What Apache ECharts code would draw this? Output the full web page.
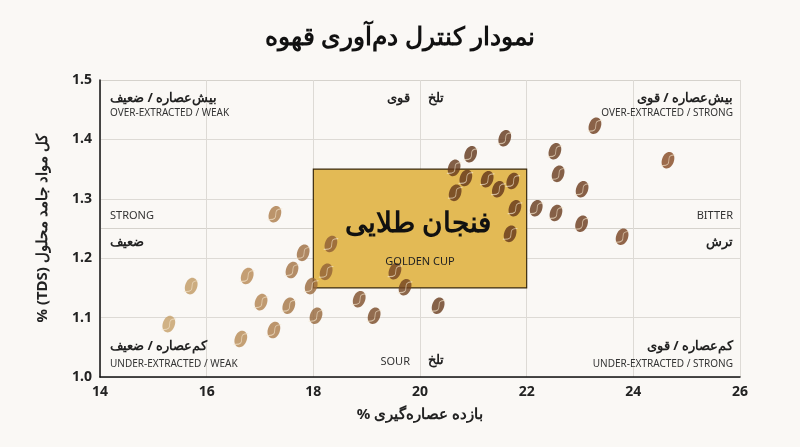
<!DOCTYPE html>
<html dir="rtl"><head><meta charset="utf-8">
<script src="https://cdn.jsdelivr.net/npm/echarts@6/dist/echarts.min.js"></script>
<style>html,body{margin:0;background:#faf8f5}#c{width:800px;height:447px}</style>
</head><body><div id="c"></div>
<script>
const extraction = [17.28,15.71,15.29,16.64,16.76,17.02,17.26,17.6,17.54,17.81,18.33,18.24,17.96,18.05,18.86,19.14,19.53,19.72,20.34,20.66,20.86,20.95,20.64,21.26,21.47,21.59,21.74,21.78,21.69,22.18,22.53,22.59,22.55,23.04,23.03,23.28,23.79,24.65];
const tds = [1.274,1.153,1.089,1.064,1.170,1.126,1.079,1.180,1.120,1.209,1.224,1.177,1.153,1.103,1.131,1.103,1.178,1.151,1.120,1.310,1.335,1.375,1.352,1.333,1.316,1.402,1.330,1.284,1.241,1.284,1.380,1.342,1.276,1.316,1.258,1.423,1.236,1.365];
const xTicks = [14,16,18,20,22,24,26];
const yTicks = [1.0,1.1,1.2,1.3,1.4,1.5];
const golden = {x:[18,22], y:[1.15,1.35]};
const data = extraction.map((x,i)=>[x,tds[i]]);
const F = 'Noto Sans, Roboto, sans-serif';
const bean = 'path://M5,0 C8,0 10,3.5 10,8 C10,12.5 8,16 5,16 C2,16 0,12.5 0,8 C0,3.5 2,0 5,0 Z';
const crease = 'path://M6,1 C3.5,5 7,11 4,15';
const chart = echarts.init(document.getElementById('c'));
function t(x,y,text,size,weight,align,color){return {type:'text',x:x,y:y,style:{text:text,font:(weight||'normal')+' '+size+'px '+F,fill:color||'#222',textAlign:align||'left',textVerticalAlign:'middle'},z:10};}
chart.setOption({
  backgroundColor:'#faf8f5',
  title:{text:'نمودار کنترل دم‌آوری قهوه',left:'center',top:20,textStyle:{fontFamily:F,fontSize:25,fontWeight:'bold',color:'#111'}},
  grid:{left:100,right:60,top:80,bottom:70},
  xAxis:{type:'value',min:14,max:26,interval:2,name:'بازده عصاره‌گیری %',nameLocation:'middle',nameGap:30,
    nameTextStyle:{fontFamily:F,fontSize:15,fontWeight:'bold',color:'#222'},
    axisLine:{lineStyle:{color:'#111',width:1.5}},axisTick:{show:false},
    axisLabel:{fontFamily:F,fontSize:14,fontWeight:'bold',color:'#222',formatter:v=>xTicks.includes(v)?String(v):''},
    splitLine:{lineStyle:{color:'#dddad5'}}},
  yAxis:[{type:'value',min:1.0,max:1.5,interval:0.1,name:'کل مواد جامد محلول (TDS) %',nameLocation:'middle',nameGap:50,
    nameTextStyle:{fontFamily:F,fontSize:15,fontWeight:'bold',color:'#222'},
    axisLine:{show:true,lineStyle:{color:'#111',width:1.5}},axisTick:{show:false},
    axisLabel:{fontFamily:F,fontSize:14,fontWeight:'bold',color:'#222',formatter:v=>v.toFixed(1)},
    splitLine:{lineStyle:{color:'#dddad5'}}},
    {type:'value',min:1.0,max:1.5,interval:0.25,position:'right',axisLine:{show:false},axisTick:{show:false},axisLabel:{show:false},
    splitLine:{lineStyle:{color:'#d5d2cc'}}}],
  visualMap:{show:false,dimension:0,min:15,max:25,seriesIndex:1,inRange:{color:['#c9a46c','#b3834f','#7a4a26','#5f3419','#6a3a1c','#8a4a22']}},
  series:[
    {type:'scatter',data:[],z:2,
     markArea:{silent:true,itemStyle:{color:'#e3ba55',borderColor:'#3a2a10',borderWidth:1.2},data:[[{coord:[golden.x[0],golden.y[1]]},{coord:[golden.x[1],golden.y[0]]}]]}},
    {type:'scatter',data:data,symbol:bean,symbolSize:[12,17],symbolRotate:-20,z:5},
    {type:'scatter',data:data,symbol:crease,symbolSize:[10,15],symbolRotate:-20,z:6,
     itemStyle:{color:'rgba(0,0,0,0)',borderColor:'rgba(245,230,205,0.85)',borderWidth:1}}
  ],
  graphic:[
    t(110,98,'بیش‌عصاره / ضعیف',13,'bold'),
    t(110,113,'OVER-EXTRACTED / WEAK',10,'normal','left','#333'),
    t(733,98,'بیش‌عصاره / قوی',13,'bold','right'),
    t(733,113,'OVER-EXTRACTED / STRONG',10,'normal','right','#333'),
    t(110,346,'کم‌عصاره / ضعیف',13,'bold'),
    t(110,364,'UNDER-EXTRACTED / WEAK',10,'normal','left','#333'),
    t(733,346,'کم‌عصاره / قوی',13,'bold','right'),
    t(733,364,'UNDER-EXTRACTED / STRONG',10,'normal','right','#333'),
    t(410,98,'قوی',13,'bold','right'),
    t(428,98,'تلخ',13,'bold','left'),
    t(110,216,'STRONG',11,'normal','left','#333'),
    t(110,242,'ضعیف',13,'bold'),
    t(733,216,'BITTER',11,'normal','right','#333'),
    t(733,242,'ترش',13,'bold','right'),
    t(410,362,'SOUR',11,'normal','right','#333'),
    t(428,360,'تلخ',13,'bold','left'),
    t(418,224,'فنجان طلایی',28,'bold','center','#111'),
    t(420,262,'GOLDEN CUP',11,'normal','center','#222')
  ]
});
</script></body></html>
